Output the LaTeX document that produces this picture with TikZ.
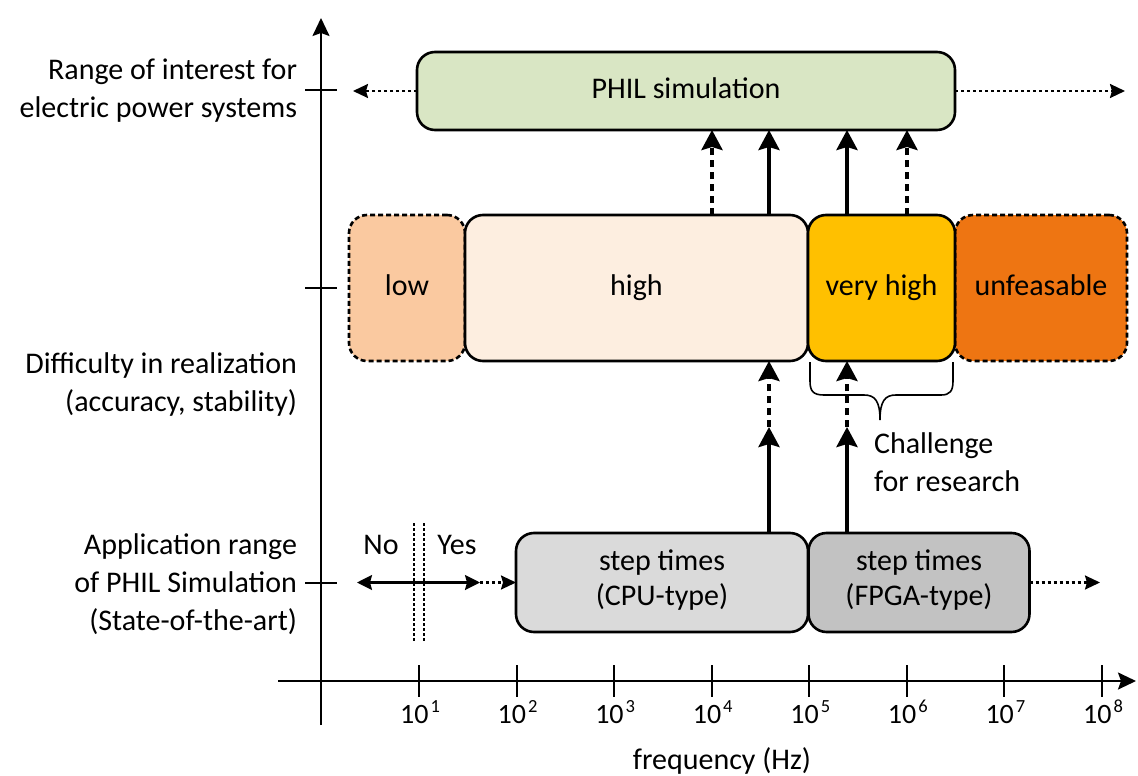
\documentclass[tikz,border=0pt]{standalone}
\usepackage{fontspec}
\setmainfont{Carlito}[Numbers=Lining]
\usetikzlibrary{arrows.meta}

\definecolor{philgreen}{HTML}{D9E6C4}
\definecolor{lowfill}{HTML}{FAC9A0}
\definecolor{highfill}{HTML}{FDEEE0}
\definecolor{vhighfill}{HTML}{FFC000}
\definecolor{unfill}{HTML}{EE7512}
\definecolor{cpufill}{HTML}{DADADA}
\definecolor{fpgafill}{HTML}{C2C2C2}

% power-of-ten tick label
\newcommand{\tenpow}[1]{{\fontsize{28}{30}\selectfont 10}\kern2pt\raisebox{10.5pt}{\fontsize{18.5}{19}\selectfont #1}}

\begin{document}
\begin{tikzpicture}[x=1pt,y=-1pt,
  every node/.style={font=\fontsize{30}{38}\selectfont, inner sep=0pt, outer sep=0pt},
  box/.style={draw, line width=2.6pt, rounded corners=18pt, align=center},
  oneline/.style={text height=21pt, text depth=6pt},
  twoline/.style={font=\fontsize{30}{35}\selectfont},
  dashedbox/.style={dash pattern=on 5pt off 3pt},
  axis/.style={line width=2pt, -{Stealth[length=18pt,width=17pt,inset=3pt]}},
  tickmark/.style={line width=2pt},
  ticklabel/.style={anchor=base},
  axislabel/.style={anchor=east, align=right},
  thickarrow/.style={line width=4pt, -{Stealth[length=20pt,width=21pt,inset=3pt]}},
  thickdash/.style={thickarrow, dash pattern=on 7pt off 5pt},
  dotarrow/.style={line width=2.2pt, dash pattern=on 3pt off 3pt, -{Stealth[length=15pt,width=14pt,inset=2pt]}},
  solidarrow/.style={line width=2.2pt, {Stealth[length=15pt,width=15pt,inset=2pt]}-{Stealth[length=15pt,width=15pt,inset=2pt]}},
  boundary/.style={line width=2pt, dash pattern=on 2.5pt off 2.5pt},
  bracestyle/.style={line width=1.6pt}
]
\useasboundingbox (0,0) rectangle (1138,776);

% axes
\coordinate (yaxbot) at (321,725);
\coordinate (yaxtop) at (321,18);
\coordinate (xaxleft) at (278,681);
\coordinate (xaxright) at (1136,681);
\draw[axis] (yaxbot) -- (yaxtop);
\draw[axis] (xaxleft) -- (xaxright);

% y ticks and row labels
\foreach \yy in {90,288,583}
  \draw[tickmark] (305,\yy) -- (337,\yy);
\node[axislabel] (ylab1) at (297,91) {Range of interest for\\electric power systems};
\node[axislabel] (ylab2) at (297,384) {Difficulty in realization\\(accuracy, stability)};
\node[axislabel] (ylab3) at (297,584) {Application range\\of PHIL Simulation\\(State-of-the-art)};

% x ticks and decade labels
\foreach \k in {1,...,8} {
  \pgfmathsetmacro{\xx}{419+97.57*(\k-1)}
  \draw[tickmark] (\xx,665) -- (\xx,697);
  \node[ticklabel] (dec\k) at (\xx+1,723) {\tenpow{\k}};
}
\node[anchor=base] (xlab) at (722,769) {frequency (Hz)};

% top row
\node[box, oneline, fill=philgreen, minimum width=538pt, minimum height=78pt] (phil) at (686,91) {PHIL simulation};
\coordinate (philleft) at (353,91);
\coordinate (philright) at (1125,91);
\draw[dotarrow] (phil.west) -- (philleft);
\draw[dotarrow] (phil.east) -- (philright);

% difficulty row
\node[box, dashedbox, oneline, fill=lowfill, minimum width=116pt, minimum height=146pt] (low) at (407,288) {low};
\node[box, oneline, fill=highfill, minimum width=343pt, minimum height=146pt] (high) at (636.5,288) {high};
\node[box, dashedbox, oneline, fill=unfill, minimum width=172pt, minimum height=146pt] (unfeas) at (1041,288) {unfeasable};
\node[box, oneline, fill=vhighfill, minimum width=147pt, minimum height=146pt] (vhigh) at (881.5,288) {very high};

% application row
\node[box, fill=cpufill, minimum width=292pt, minimum height=99pt] (cpu) at (662,582.5) {};
\node[box, fill=fpgafill, minimum width=221pt, minimum height=99pt] (fpga) at (919,582.5) {};
\node[twoline, align=center] (cputext) at (cpu.center) [yshift=2pt] {step times\\(CPU-type)};
\node[twoline, align=center] (fpgatext) at (fpga.center) [yshift=2pt] {step times\\(FPGA-type)};
\coordinate (fpgaend) at (1100,582.5);
\draw[dotarrow] (fpga.east) -- (fpgaend);

% No / Yes boundary
\coordinate (noend) at (357,582.5);
\coordinate (yesend) at (480,582.5);
\draw[solidarrow] (noend) -- (yesend);
\draw[dotarrow] (yesend) -- (cpu.west);
\coordinate (bnd1top) at (414,523);
\coordinate (bnd1bot) at (414,642);
\coordinate (bnd2top) at (423.5,523);
\coordinate (bnd2bot) at (423.5,642);
\draw[boundary] (bnd1top) -- (bnd1bot);
\draw[boundary] (bnd2top) -- (bnd2bot);
\node (no) at (381,545) {No};
\node (yes) at (457,545) {Yes};

% connections between rows
\coordinate (ca) at (712,0);
\coordinate (cb) at (769,0);
\coordinate (cc) at (847,0);
\coordinate (cd) at (907,0);
\draw[thickdash] (ca |- high.north) -- (ca |- phil.south);
\draw[thickarrow] (cb |- high.north) -- (cb |- phil.south);
\draw[thickarrow] (cc |- vhigh.north) -- (cc |- phil.south);
\draw[thickdash] (cd |- vhigh.north) -- (cd |- phil.south);

\coordinate (mb) at (769,427);
\coordinate (mc) at (847,427);
\draw[thickarrow] (mb |- cpu.north) -- (mb);
\draw[thickdash] (mb) -- (mb |- high.south);
\draw[thickarrow] (mc |- fpga.north) -- (mc);
\draw[thickdash] (mc) -- (mc |- vhigh.south);

% brace under the very-high region
\draw[bracestyle] (810,362) -- (810,381) .. controls (810,391) and (813,395) .. (824,395)
  -- (864,395) .. controls (875,395) and (880,401) .. (880,420)
  .. controls (880,401) and (885,395) .. (896,395)
  -- (941,395) .. controls (950,395) and (953,391) .. (953,381) -- (953,362);
\node[anchor=west, align=left] (challenge) at (874,462) {Challenge\\for research};

\end{tikzpicture}
\end{document}
